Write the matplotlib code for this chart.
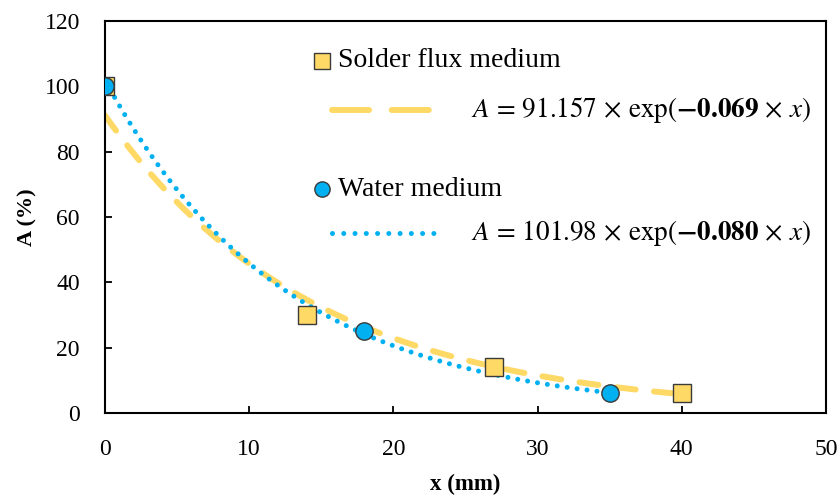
import numpy as np
import matplotlib
matplotlib.use("Agg")
import matplotlib.pyplot as plt

# measured points
flux_x = [0, 14, 27, 40]
flux_A = [100, 30, 14, 6]
water_x = [0, 18, 35]
water_A = [100, 25, 6]

# exponential fits A = a * exp(b * x), as given on the chart
flux_fit = (91.157, -0.069)
water_fit = (101.98, -0.080)

x_ticks = [0, 10, 20, 30, 40, 50]
y_ticks = [0, 20, 40, 60, 80, 100, 120]

flux_label = "Solder flux medium"
water_label = "Water medium"
flux_eq = r"$A\,=\,91.157\,\times\,\mathrm{exp}(\mathbf{-0.069}\,\times\,x)$"
water_eq = r"$A\,=\,101.98\,\times\,\mathrm{exp}(\mathbf{-0.080}\,\times\,x)$"

YELLOW = "#FFD966"
BLUE = "#00B0F0"
EDGE = "#3a3a3a"

plt.rcParams['font.family'] = ['Liberation Serif', 'DejaVu Serif']
plt.rcParams['mathtext.fontset'] = 'stix'
plt.rcParams['lines.scale_dashes'] = False

fig = plt.figure(figsize=(8.39, 4.96), dpi=100)
ax = fig.add_axes([0.125, 0.1673, 0.8595, 0.7904])

xf = np.linspace(0, max(flux_x), 300)
xw = np.linspace(0, max(water_x), 300)
ax.plot(xf, flux_fit[0] * np.exp(flux_fit[1] * xf), color=YELLOW, lw=4.3,
        dashes=(13.7, 13.3), dash_capstyle='round', zorder=2)
ax.plot(xw, water_fit[0] * np.exp(water_fit[1] * xw), color=BLUE, lw=3.6,
        dashes=(0.01, 7.2), dash_capstyle='round', zorder=2)

ax.plot(flux_x, flux_A, 's', ms=13, mfc=YELLOW, mec=EDGE, mew=1, zorder=3)
ax.plot(water_x, water_A, 'o', ms=12.5, mfc=BLUE, mec=EDGE, mew=1, zorder=4)

ax.set_xlim(0, 50)
ax.set_ylim(0, 120)
ax.set_xticks(x_ticks)
ax.set_yticks(y_ticks)
ax.tick_params(direction='in', length=5, width=1.3, labelsize=17)
ax.tick_params(axis='x', pad=19)
ax.tick_params(axis='y', pad=18)
for s in ax.spines.values():
    s.set_linewidth(1.5)

ax.set_xlabel("x (mm)", fontsize=16.5, fontweight='bold', labelpad=10)
ax.set_ylabel("A (%)", fontsize=16, fontweight='bold', labelpad=5)

# hand-placed legend
T = ax.transAxes
ax.plot([0.301], [0.898], 's', ms=11, mfc=YELLOW, mec=EDGE, mew=1, transform=T, clip_on=False)
ax.text(0.323, 0.898, flux_label, transform=T, fontsize=20, va='center')
ax.plot([0.315, 0.458], [0.773, 0.773], color=YELLOW, lw=4.3, dashes=(26.7, 16.3),
        dash_capstyle='round', transform=T)
ax.text(0.508, 0.773, flux_eq, transform=T, fontsize=19.5, va='center')

ax.plot([0.301], [0.571], 'o', ms=11, mfc=BLUE, mec=EDGE, mew=1, transform=T, clip_on=False)
ax.text(0.323, 0.571, water_label, transform=T, fontsize=20, va='center')
ax.plot([0.315, 0.458], [0.459, 0.459], color=BLUE, lw=3.6, dashes=(0.01, 8.1),
        dash_capstyle='round', transform=T)
ax.text(0.508, 0.459, water_eq, transform=T, fontsize=19.5, va='center')

fig.savefig("out.png", dpi=100)
